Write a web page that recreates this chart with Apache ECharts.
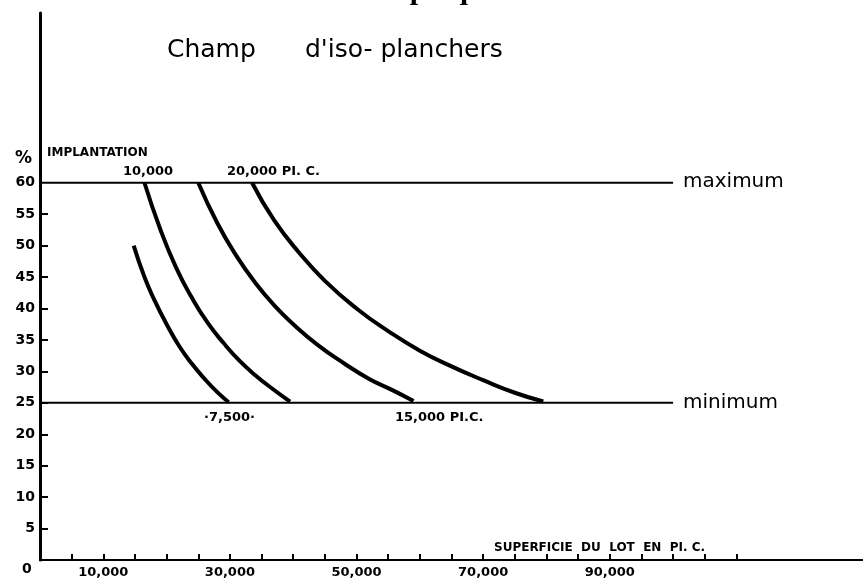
<!DOCTYPE html>
<html>
<head>
<meta charset="utf-8">
<script src="https://cdn.jsdelivr.net/npm/echarts@6/dist/echarts.min.js"></script>
<style>
    html, body { margin: 0; padding: 0; background: #fff; }
    #chart { width: 863px; height: 580px; }
</style>
</head>
<body>
<div id="chart"></div>
<script>
// valeurs : [superficie du lot (pi.c.), implantation %]
var iso7500 = [[14800, 50], [16500, 45], [18000, 41.5], [20000, 37.5], [22000, 34], [24000, 31.2], [26000, 28.8], [28000, 26.7], [29800, 25.1]]
var iso10000 = [[16500, 60], [19000, 52.6], [21500, 46.5], [24000, 41.7], [26500, 37.7], [29000, 34.5], [31500, 31.7], [34000, 29.4], [36500, 27.4], [39500, 25.2]]
var iso15000 = [[25000, 60], [28000, 53.6], [31000, 48.4], [34000, 44.1], [37000, 40.5], [40000, 37.5], [44000, 34.1], [48000, 31.3], [52000, 28.8], [55500, 27.1], [59000, 25.3]]
var iso20000 = [[33500, 60], [37000, 54], [41000, 48.8], [45000, 44.4], [50000, 40], [55000, 36.4], [60000, 33.3], [65000, 30.8], [70000, 28.6], [75000, 26.6], [79500, 25.2]]

var maxPct = 60   // maximum
var minPct = 25   // minimum
var limitEnd = 100000

var yLabels = [5, 10, 15, 20, 25, 30, 35, 40, 45, 50, 55, 60]
var yTicks = [5, 10, 15, 20, 25, 30, 35, 40, 45, 50, 55]
var xLabels = [10000, 30000, 50000, 70000, 90000]
var xTicks = []
for (var t = 5000; t <= 110000; t += 5000) xTicks.push(t)

var bold = 'DejaVu Sans'

function curve (data) {
    return {
        type: 'line',
        data: data,
        smooth: 0.5,
        symbol: 'none',
        lineStyle: { color: '#000', width: 4 },
        silent: true
    }
}

function limit (pct) {
    return {
        type: 'line',
        data: [[0, pct], [limitEnd, pct]],
        symbol: 'none',
        lineStyle: { color: '#000', width: 2 },
        silent: true
    }
}

var chart = echarts.init(document.getElementById('chart'))

var option = {
    animation: false,
    backgroundColor: '#fff',
    grid: { left: 40, right: 0, top: 13, bottom: 20 },
    xAxis: {
        type: 'value',
        min: 0,
        max: 130000,
        splitLine: { show: false },
        axisLine: { lineStyle: { color: '#000', width: 2 } },
        axisTick: {
            inside: true,
            length: 6,
            customValues: xTicks,
            lineStyle: { color: '#000', width: 2 }
        },
        axisLabel: {
            customValues: xLabels,
            color: '#000',
            fontFamily: bold,
            fontWeight: 'bold',
            fontSize: 13,
            margin: 6,
            formatter: function (v) {
                return v.toLocaleString('en-US')
            }
        }
    },
    yAxis: {
        type: 'value',
        min: 0,
        max: 87,
        splitLine: { show: false },
        axisLine: { lineStyle: { color: '#000', width: 3 } },
        axisTick: {
            inside: true,
            length: 8,
            customValues: yTicks,
            lineStyle: { color: '#000', width: 2 }
        },
        axisLabel: {
            customValues: yLabels,
            color: '#000',
            fontFamily: bold,
            fontWeight: 'bold',
            fontSize: 14,
            margin: 5,
            padding: [0, 0, 10, 0]
        }
    },
    series: [
        limit(maxPct),
        limit(minPct),
        curve(iso7500),
        curve(iso10000),
        curve(iso15000),
        curve(iso20000)
    ],
    graphic: [
        // titre coupé en haut
        { type: 'text', left: 358, top: -24, style: { text: 'Graphique 1', font: 'bold 30px "Liberation Serif"', fill: '#000' } },
        { type: 'text', left: 167, top: 38, style: { text: 'Champ', font: '25px "DejaVu Sans"', fill: '#000' } },
        { type: 'text', left: 305, top: 38, style: { text: "d'iso- planchers", font: '25px "DejaVu Sans"', fill: '#000' } },
        { type: 'text', left: 15, top: 150, style: { text: '%', font: 'bold 17px "DejaVu Sans"', fill: '#000' } },
        { type: 'text', left: 47, top: 147, style: { text: 'IMPLANTATION', font: 'bold 12px "DejaVu Sans"', fill: '#000' } },
        { type: 'text', left: 123, top: 165, style: { text: '10,000', font: 'bold 13px "DejaVu Sans"', fill: '#000' } },
        { type: 'text', left: 227, top: 165, style: { text: '20,000 PI. C.', font: 'bold 13px "DejaVu Sans"', fill: '#000' } },
        { type: 'text', left: 204, top: 411, style: { text: '·7,500·', font: 'bold 13px "DejaVu Sans"', fill: '#000' } },
        { type: 'text', left: 395, top: 411, style: { text: '15,000 PI.C.', font: 'bold 13px "DejaVu Sans"', fill: '#000' } },
        { type: 'text', left: 683, top: 172, style: { text: 'maximum', font: '20px "DejaVu Sans"', fill: '#000' } },
        { type: 'text', left: 683, top: 393, style: { text: 'minimum', font: '20px "DejaVu Sans"', fill: '#000' } },
        { type: 'text', left: 494, top: 542, style: { text: 'SUPERFICIE  DU  LOT  EN  PI. C.', font: 'bold 12px "DejaVu Sans"', fill: '#000' } },
        { type: 'text', left: 22, top: 562, style: { text: '0', font: 'bold 14px "DejaVu Sans"', fill: '#000' } }
    ]
}

chart.setOption(option)
</script>
</body>
</html>
